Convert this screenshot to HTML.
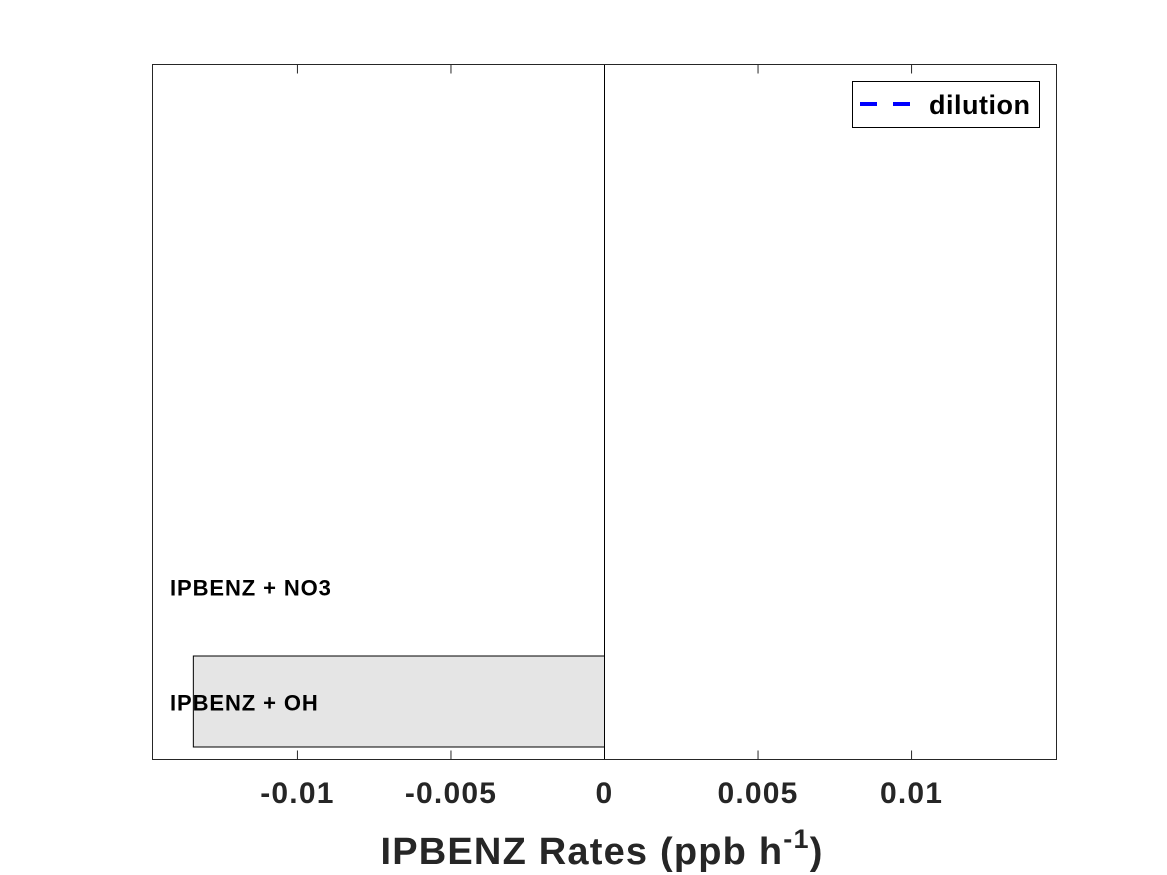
<!DOCTYPE html>
<html><head><meta charset="utf-8"><style>
body{margin:0;background:#fff;}
svg{display:block;font-family:"Liberation Sans",sans-serif;}
</style></head><body>
<svg id="chart" width="1167" height="875">
<rect x="0" y="0" width="1167" height="875" fill="#fff"/>
<g id="bars"></g>
<g id="ticks"></g>
<line id="zero-line" stroke="#000" stroke-width="1"/>
<rect x="152.5" y="64.5" width="904" height="695" fill="none" stroke="#262626" stroke-width="1"/>
<g id="labels"></g>
<text x="602" y="864" text-anchor="middle" font-size="38" font-weight="bold" fill="#262626" letter-spacing="1.2">IPBENZ Rates (ppb h<tspan dy="-16" font-size="27">-1</tspan><tspan dy="16">)</tspan></text>
<g>
<rect x="852.5" y="81.5" width="187" height="46" fill="#fff" stroke="#000" stroke-width="1"/>
<line x1="860" y1="104" x2="910" y2="104" stroke="#0000ff" stroke-width="4" stroke-dasharray="17,16"/>
<text x="929" y="114" font-size="27" font-weight="bold" fill="#000" letter-spacing="0.5">dilution</text>
</g>
</svg>
<script>
const categories = ["IPBENZ + OH", "IPBENZ + NO3"];
const values = [-0.01339, 0];
const tickValues = [-0.01, -0.005, 0, 0.005, 0.01];
const tickLabels = ["-0.01", "-0.005", "0", "0.005", "0.01"];
const xMin = -0.01472, xMax = 0.01472;
const L = 152.5, R = 1056.5, T = 64.5, B = 759.5;
const ns = "http://www.w3.org/2000/svg";
function xs(v){ return L + (v - xMin) / (xMax - xMin) * (R - L); }
function ys(i){ return 701.5 - i * 115; }
const barH = 91;
const gb = document.getElementById('bars'), gt = document.getElementById('ticks'), gl = document.getElementById('labels');
values.forEach((v,i)=>{
  if (v === 0) return;
  const r = document.createElementNS(ns,'rect');
  const x0 = xs(0), x1 = xs(v);
  r.setAttribute('x', Math.min(x0,x1)); r.setAttribute('width', Math.abs(x1-x0));
  r.setAttribute('y', ys(i)-barH/2); r.setAttribute('height', barH);
  r.setAttribute('fill','#e5e5e5'); r.setAttribute('stroke','#000'); r.setAttribute('stroke-width','1');
  
  
  gb.appendChild(r);
});
categories.forEach((c,i)=>{
  const t = document.createElementNS(ns,'text');
  t.setAttribute('x', 170); t.setAttribute('y', ys(i)+9);
  t.setAttribute('font-size','22'); t.setAttribute('font-weight','bold'); t.setAttribute('fill','#000');
  t.setAttribute('letter-spacing','0.9');
  t.textContent = c;
  
  
  gl.appendChild(t);
});
tickValues.forEach((v,i)=>{
  const x = xs(v);
  [[B, B-9],[T, T+9]].forEach(([a,b])=>{
    const l = document.createElementNS(ns,'line');
    l.setAttribute('x1',x); l.setAttribute('x2',x); l.setAttribute('y1',a); l.setAttribute('y2',b);
    l.setAttribute('stroke','#262626');
    
    
    gt.appendChild(l);
  });
  const t = document.createElementNS(ns,'text');
  t.setAttribute('x', x); t.setAttribute('y', 803); t.setAttribute('text-anchor','middle');
  t.setAttribute('font-size','30'); t.setAttribute('font-weight','bold'); t.setAttribute('fill','#262626');
  t.setAttribute('letter-spacing','1.2');
  t.textContent = tickLabels[i];
  
  
  gt.appendChild(t);
});
const z = document.getElementById('zero-line');
z.setAttribute('x1', xs(0)); z.setAttribute('x2', xs(0)); z.setAttribute('y1', T); z.setAttribute('y2', B);
</script>
</body></html>
